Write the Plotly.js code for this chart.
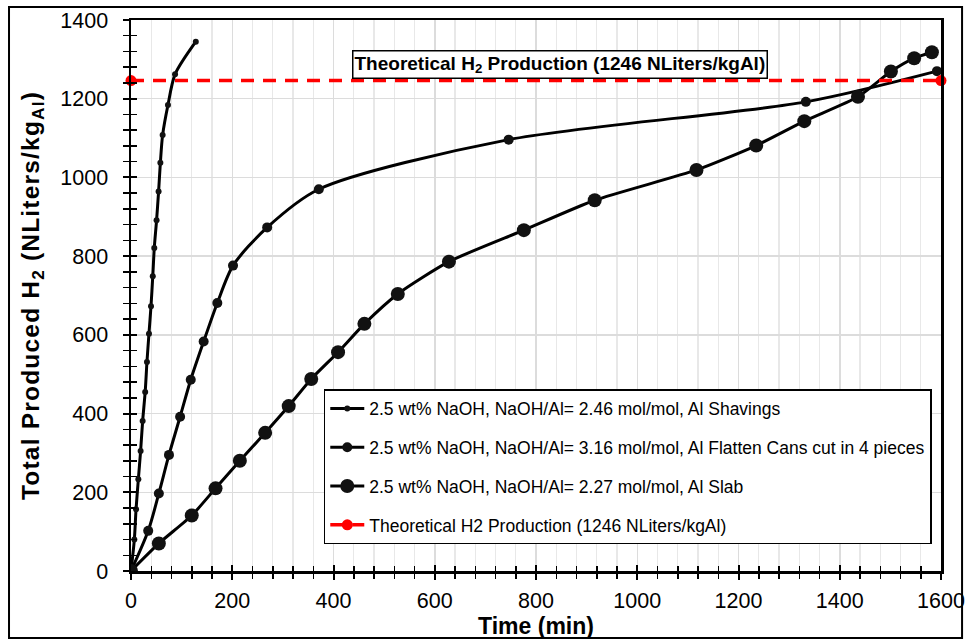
<!DOCTYPE html>
<html>
<head>
<meta charset="utf-8">
<script src="https://cdn.plot.ly/plotly-3.0.1.min.js"></script>
<style>html,body{margin:0;padding:0;background:#fff;}#chart{width:971px;height:639px;}
#chart .ytitle{letter-spacing:1.2px;}</style>
</head>
<body>
<div id="chart"></div>
<script>
// Al Shavings (2.46 mol/mol)
const shavingsTime = [0, 6.6, 10, 14.5, 19, 23, 28, 31.5, 35.5, 39.5, 43, 46, 50.5, 54.5, 58, 62.5, 73, 87, 128];
const shavingsH2   = [0, 80, 157, 233, 305, 381, 455, 531, 603, 673, 749, 821, 891, 964, 1037, 1108, 1184, 1262, 1345];
// Flatten cans cut in 4 pieces (3.16 mol/mol)
const cansTime = [0, 34, 55, 75, 97, 118, 143.5, 170.5, 201.5, 269, 371, 746, 1333, 1592];
const cansH2   = [0, 102, 197, 295, 392, 486, 583, 681, 776, 873, 970, 1096, 1192, 1270];
// Al Slab (2.27 mol/mol)
const slabTime = [0, 55, 120, 167, 215, 265, 311.5, 356, 409, 461, 527, 628, 776, 916, 1117, 1235, 1330, 1436, 1501, 1547, 1582];
const slabH2   = [0, 70, 141, 210, 280, 351, 419, 488, 556, 628, 704, 786, 866, 942, 1019, 1081, 1143, 1205, 1269, 1303, 1318];
// Theoretical line
const theoTime = [0, 1600];
const theoH2   = [1246, 1246];

const names = [
  "2.5 wt% NaOH, NaOH/Al= 2.46 mol/mol, Al Shavings",
  "2.5 wt% NaOH, NaOH/Al= 3.16 mol/mol, Al Flatten Cans cut in 4 pieces",
  "2.5 wt% NaOH, NaOH/Al= 2.27 mol/mol, Al Slab",
  "Theoretical H2 Production (1246 NLiters/kgAl)"
];
const theoLabel = "Theoretical H<sub>2</sub> Production (1246 NLiters/kgAl)";

const traces = [
  {x: shavingsTime, y: shavingsH2, name: names[0], legendgroup: 'a', mode: 'lines+markers',
   line: {color: '#000', width: 3, shape: 'spline', smoothing: 0.8}, marker: {color: '#111', size: 6}},
  {x: cansTime, y: cansH2, name: names[1], legendgroup: 'b', mode: 'lines+markers',
   line: {color: '#000', width: 3, shape: 'spline', smoothing: 0.8}, marker: {color: '#111', size: 10}},
  {x: slabTime, y: slabH2, name: names[2], legendgroup: 'c', mode: 'lines+markers',
   line: {color: '#000', width: 3, shape: 'spline', smoothing: 0.6}, marker: {color: '#111', size: 14}},
  {x: theoTime, y: theoH2, name: names[3], legendgroup: 'd', mode: 'lines+markers', cliponaxis: false,
   line: {color: '#ff0000', width: 3.5, dash: '13px,9px'}, marker: {color: '#ff0000', size: 11}},
  {x: [0], y: [0], xaxis: 'x2', yaxis: 'y2', mode: 'markers', marker: {opacity: 0}, showlegend: false, hoverinfo: 'skip'}
];

const tickFont = {family: 'Arial, "Liberation Sans", sans-serif', size: 21.5, color: '#000'};
const layout = {
  width: 971, height: 639,
  margin: {l: 131, r: 30, t: 20, b: 68},
  paper_bgcolor: '#fff', plot_bgcolor: '#fff',
  font: {family: 'Arial, "Liberation Sans", sans-serif', color: '#000'},
  showlegend: true,
  legend: {x: 0.238, y: 0.33, xanchor: 'left', yanchor: 'top', bgcolor: '#fff',
           bordercolor: '#000', borderwidth: 1.5, font: {size: 17.5, color: '#000'},
           tracegroupgap: 13, itemwidth: 34},
  xaxis: {range: [0, 1600], dtick: 200, tick0: 0, showline: true, linecolor: '#000', linewidth: 2.5,
          mirror: true, ticks: 'outside', ticklen: 6, tickwidth: 2, tickcolor: '#000',
          showgrid: true, gridcolor: '#dcdcdc', gridwidth: 1.5, zeroline: false,
          minor: {dtick: 40, ticks: 'outside', ticklen: 5, tickwidth: 1.5, tickcolor: '#000', showgrid: true, gridcolor: '#e8e8e8', gridwidth: 1.2},
          tickfont: tickFont, ticklabelstandoff: 3,
          title: {text: '<b>Time (min)</b>', font: {size: 23, color: '#000'}, standoff: 2}},
  yaxis: {range: [0, 1400], dtick: 200, tick0: 0, showline: true, linecolor: '#000', linewidth: 2.5,
          mirror: true, ticks: 'outside', ticklen: 6, tickwidth: 2, tickcolor: '#000',
          showgrid: true, gridcolor: '#dcdcdc', gridwidth: 1.5, zeroline: false,
          minor: {dtick: 40, ticks: 'outside', ticklen: 6, tickwidth: 1.5, tickcolor: '#000', showgrid: false},
          tickfont: tickFont, ticklabelstandoff: 10,
          title: {text: '<b>Total Produced H<sub>2</sub> (NLiters/kg<sub>Al</sub>)</b>', font: {size: 24.5, color: '#000'}, standoff: 14}},
  xaxis2: {overlaying: 'x', anchor: 'y2', range: [0, 1600], dtick: 200, tick0: 0, ticks: 'inside', ticklen: 6, tickwidth: 2,
           tickcolor: '#000', showticklabels: false, showgrid: false, zeroline: false, showline: false,
           minor: {dtick: 40, ticks: 'inside', ticklen: 5, tickwidth: 1.5, tickcolor: '#000', showgrid: false}},
  yaxis2: {overlaying: 'y', anchor: 'x2', range: [0, 1400], dtick: 200, tick0: 0, ticks: 'inside', ticklen: 6, tickwidth: 2,
           tickcolor: '#000', showticklabels: false, showgrid: false, zeroline: false, showline: false,
           minor: {dtick: 40, ticks: 'inside', ticklen: 6, tickwidth: 1.5, tickcolor: '#000', showgrid: false}},
  annotations: [{
    x: 847, y: 1288, xref: 'x', yref: 'y', text: '<b>' + theoLabel + '</b>', showarrow: false,
    font: {size: 19, color: '#000'}, bgcolor: '#fff', bordercolor: '#000', borderwidth: 1.5, borderpad: 1
  }],
  shapes: [{type: 'rect', xref: 'paper', yref: 'paper', x0: -0.1506, x1: 1.026, y0: -0.1216, y1: 1.0236,
            line: {color: '#000', width: 2}, fillcolor: 'rgba(0,0,0,0)', layer: 'above'}]
};

Plotly.newPlot('chart', traces, layout, {displayModeBar: false, staticPlot: true});
</script>
</body>
</html>
